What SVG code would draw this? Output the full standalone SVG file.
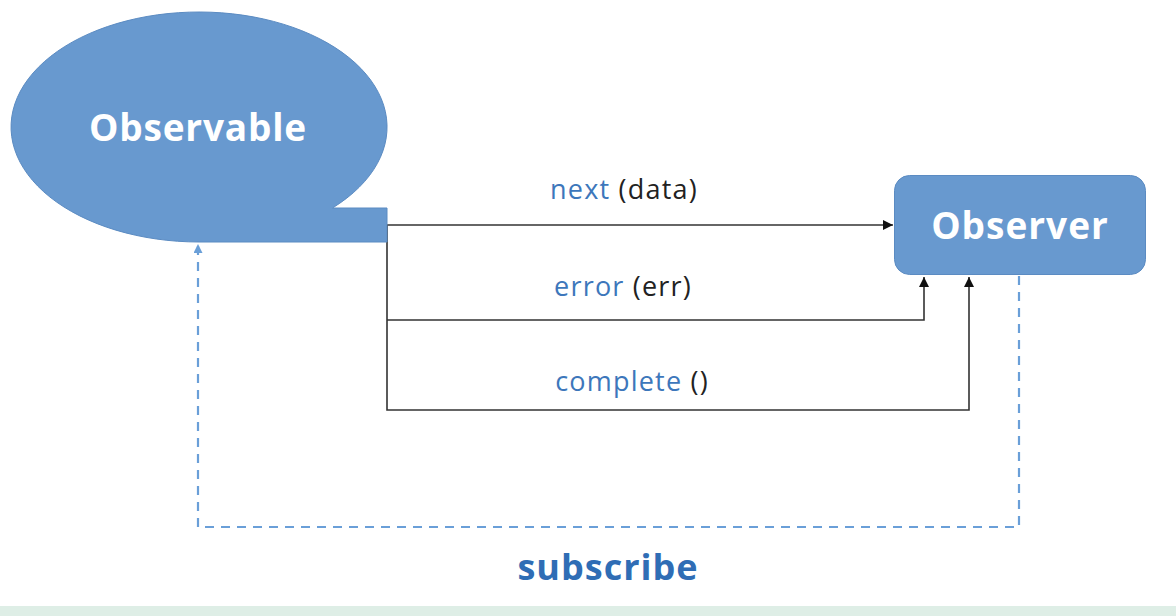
<svg xmlns="http://www.w3.org/2000/svg" width="1176" height="616" viewBox="0 0 1176 616">
<style>
.node{fill:#6899cf;stroke:#5b8bc2;stroke-width:1}
.title{font-family:"Open Sans","Liberation Sans",sans-serif;font-weight:bold;fill:#fff;text-anchor:middle;font-size:37px}
.lbl{font-family:"Open Sans","Liberation Sans",sans-serif;font-size:27px;letter-spacing:1.2px;fill:#222;text-anchor:middle}
.kw{fill:#3d77bb}
.wire{fill:none;stroke:#333;stroke-width:1.6}
.dash{fill:none;stroke:#6a9fd8;stroke-width:2.2;stroke-dasharray:9,7}
</style>
<defs>
<marker id="ah" viewBox="0 0 10 10" refX="10" refY="5" markerWidth="11" markerHeight="10" orient="auto" markerUnits="userSpaceOnUse">
<path d="M0,0 L10,5 L0,10 z" fill="#111"/>
</marker>
<marker id="ahb" viewBox="0 0 10 10" refX="10" refY="5" markerWidth="9" markerHeight="9" orient="auto" markerUnits="userSpaceOnUse">
<path d="M0,0 L10,5 L0,10 z" fill="#6a9fd8"/>
</marker>
</defs>
<rect x="0" y="606" width="1176" height="10" fill="#deeee6"/>
<g id="connectors">
<path class="wire" d="M387,225 L893,225" marker-end="url(#ah)"/>
<path class="wire" d="M387,225 L387,410 L969,410 L969,277" marker-end="url(#ah)"/>
<path class="wire" d="M387,320 L924,320 L924,277" marker-end="url(#ah)"/>
<path class="dash" d="M1019,276 L1019,527 L198,527 L198,244" marker-end="url(#ahb)"/>
</g>
<g id="observable">
<path class="node" d="M332.5,208 L387,208 L387,242 L199,242 A188,115 0 1 1 332.5,208 Z"/>
<text class="title" x="198" y="141" letter-spacing="0.8">Observable</text>
</g>
<g id="observer">
<rect class="node" x="894.5" y="175.5" width="251" height="99" rx="15"/>
<text class="title" x="1020" y="239" letter-spacing="1">Observer</text>
</g>
<g id="labels">
<text class="lbl" x="624" y="199"><tspan class="kw">next</tspan> (data)</text>
<text class="lbl" x="623" y="296"><tspan class="kw">error</tspan> (err)</text>
<text class="lbl" x="632" y="391"><tspan class="kw">complete</tspan> ()</text>
<text x="608" y="580" font-family="'Open Sans','Liberation Sans',sans-serif" font-weight="bold" font-size="36" letter-spacing="1" fill="#2f6db5" text-anchor="middle">subscribe</text>
</g>
</svg>
